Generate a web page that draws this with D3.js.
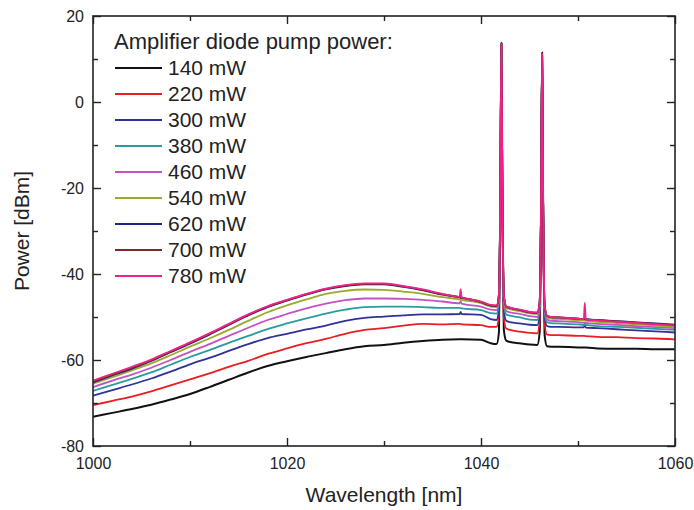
<!DOCTYPE html>
<html>
<head>
<meta charset="utf-8">
<script src="https://cdn.jsdelivr.net/npm/d3@7"></script>
<style>
  html, body { margin: 0; padding: 0; background: #fff; }
  svg { display: block; font-family: "Liberation Sans", Arial, sans-serif; }
</style>
</head>
<body>
<svg id="chart" width="694" height="510"></svg>
<script>
// ---------------- DATA ----------------
const wavelength = [1000,1002,1004,1006,1008,1010,1012,1014,1016,1018,1020,1022,1024,1026,1028,1030,1032,1034,1036,
  1037.8,1037.9,1038,1040,1041,1041.6,1041.85,1042,1042.1,1042.2,1042.35,1042.6,1043,1044,1045,1045.8,1046.05,1046.2,1046.3,1046.4,1046.55,1046.8,1047.2,1048,1050,1050.6,1050.7,1050.8,1052,1054,1056,1058,1060];

const p140 = [-73.2,-72.3,-71.4,-70.4,-69.2,-67.9,-66.3,-64.6,-62.9,-61.4,-60.3,-59.3,-58.4,-57.5,-56.8,-56.5,-56.0,-55.6,-55.3,
  -55.2,-55.2,-55.2,-55.3,-56.1,-56.3,-53.5,-20,13.8,-20,-52.8,-55.5,-55.8,-56.1,-56.4,-56.5,-53.5,-22,11.5,-22,-54,-56.8,-56.9,-56.9,-57.1,-57.1,-57.1,-57.1,-57.3,-57.4,-57.4,-57.5,-57.5];
const p220 = [-70.5,-69.5,-68.5,-67.3,-65.9,-64.5,-63.1,-61.6,-60.2,-58.6,-57.3,-56.1,-55.1,-53.9,-53.0,-52.6,-52.0,-51.6,-51.7,
  -51.6,-51.65,-51.7,-51.9,-52.3,-52.3,-49.5,-20,13.5,-20,-50,-52.7,-53.0,-53.4,-53.7,-53.8,-51,-22,11.2,-22,-51.4,-54.1,-54.2,-54.2,-54.4,-54.4,-54.4,-54.45,-54.6,-54.7,-54.9,-55.0,-55.2];
const p300 = [-68.3,-67.0,-65.7,-64.3,-62.7,-61.0,-59.5,-57.9,-56.3,-54.9,-53.9,-52.9,-52.0,-50.9,-50.2,-49.9,-49.6,-49.4,-49.4,
  -49.3,-48.8,-49.3,-49.5,-50.5,-50.7,-48,-20,13.5,-20,-48.3,-50.9,-51.2,-51.5,-51.8,-51.9,-49.3,-22,11.2,-22,-49.6,-52.1,-52.3,-52.3,-52.4,-52.4,-51.6,-52.45,-52.6,-52.85,-53.1,-53.35,-53.6];
const p380 = [-67.2,-65.8,-64.4,-62.9,-61.1,-59.3,-57.7,-56.0,-54.4,-52.8,-51.5,-50.3,-49.2,-48.3,-47.7,-47.6,-47.6,-47.7,-47.9,
  -47.9,-47.95,-48.0,-48.4,-49.1,-49.2,-46.6,-20,13.5,-20,-47,-49.4,-49.7,-50.1,-50.6,-50.7,-48,-22,11.2,-22,-48.5,-51.2,-51.4,-51.5,-51.7,-51.8,-51.8,-51.85,-52.1,-52.3,-52.5,-52.75,-53.0];
const p460 = [-66.3,-64.8,-63.4,-61.8,-60.0,-58.1,-56.3,-54.4,-52.5,-50.7,-49.3,-48.0,-46.9,-46.1,-45.7,-45.7,-45.8,-46.0,-46.4,
  -46.8,-46.3,-46.9,-47.6,-48.3,-48.4,-45.8,-20,13.5,-20,-46,-48.6,-48.9,-49.3,-49.8,-50.0,-47.3,-22,11.2,-22,-47.7,-50.6,-50.9,-50.95,-51.2,-51.3,-51.3,-51.35,-51.6,-51.85,-52.1,-52.35,-52.6];
const p540 = [-65.5,-64.0,-62.4,-60.8,-58.9,-56.9,-55.0,-53.0,-50.9,-48.9,-47.3,-45.9,-44.6,-43.9,-43.6,-43.7,-44.1,-44.6,-45.4,
  -45.9,-45.95,-46.0,-46.8,-47.6,-47.7,-45.1,-20,13.5,-20,-45.2,-47.9,-48.2,-48.65,-49.15,-49.35,-46.6,-22,11.2,-22,-47.4,-50.05,-50.35,-50.45,-50.7,-50.8,-50.8,-50.85,-51.1,-51.4,-51.7,-52.0,-52.3];
const p620 = [-65.2,-63.6,-62.0,-60.2,-58.2,-56.2,-54.1,-51.85,-49.65,-47.7,-46.2,-44.8,-43.6,-42.8,-42.4,-42.4,-43.0,-43.8,-44.8,
  -45.45,-45.5,-45.55,-46.55,-47.35,-47.45,-44.8,-20,13.5,-20,-44.9,-47.6,-47.9,-48.4,-48.9,-49.05,-46.4,-22,11.2,-22,-47.1,-49.75,-50.0,-50.1,-50.4,-50.45,-50.45,-50.5,-50.7,-50.95,-51.25,-51.5,-51.8];
const p700 = [-65.0,-63.4,-61.8,-60.1,-58.05,-56.05,-53.95,-51.7,-49.5,-47.6,-46.1,-44.7,-43.5,-42.7,-42.3,-42.3,-42.9,-43.7,-44.7,
  -45.4,-45.45,-45.5,-46.5,-47.3,-47.4,-44.7,-20,13.5,-20,-44.85,-47.55,-47.85,-48.35,-48.85,-49.0,-46.35,-22,11.2,-22,-47.05,-49.7,-50.0,-50.1,-50.4,-50.5,-50.5,-50.55,-50.75,-51.0,-51.3,-51.6,-51.9];
const p780 = [-64.8,-63.2,-61.6,-59.9,-57.9,-55.9,-53.8,-51.6,-49.4,-47.5,-46.0,-44.6,-43.4,-42.6,-42.2,-42.2,-42.8,-43.6,-44.6,
  -45.3,-43.6,-45.4,-46.4,-47.2,-47.3,-44.6,-20,13.5,-20,-44.8,-47.5,-47.8,-48.3,-48.8,-48.95,-46.3,-22,11.2,-22,-47,-49.7,-50.0,-50.1,-50.4,-50.5,-46.7,-50.55,-50.8,-51.1,-51.4,-51.7,-52.0];

const seriesLabels = ["140 mW","220 mW","300 mW","380 mW","460 mW","540 mW","620 mW","700 mW","780 mW"];
const seriesValues = [p140,p220,p300,p380,p460,p540,p620,p700,p780];
const seriesColors = ["#111111","#ec1c24","#2e3399","#2a9c9e","#c452c4","#9aaa2a","#1f2580","#7a2a2a","#ee2288"];
const legendTitle = "Amplifier diode pump power:";
const xTicks = [1000,1020,1040,1060];
const xMinorTicks = [1010,1030,1050];
const yTicks = [-80,-60,-40,-20,0,20];
const yMinorTicks = [-70,-50,-30,-10,10];
const xLabel = "Wavelength [nm]";
const yLabel = "Power [dBm]";

// ---------------- CHART ----------------
const svg = d3.select("#chart");
const L = 93, R = 675, T = 16, B = 446;
const x = d3.scaleLinear().domain([1000,1060]).range([L,R]);
const y = d3.scaleLinear().domain([-80,20]).range([B,T]);
const textColor = "#222";
const fmt = d => String(d);

svg.append("defs").append("clipPath").attr("id","clip")
  .append("rect").attr("x",L).attr("y",T).attr("width",R-L).attr("height",B-T);

// lines
const line = d3.line().x(d => x(d[0])).y(d => y(d[1])).curve(d3.curveMonotoneX);
const gLines = svg.append("g").attr("clip-path","url(#clip)");
seriesValues.forEach((vals,i) => {
  const pts = wavelength.map((w,j) => [w, vals[j]]);
  gLines.append("path").datum(pts)
    .attr("d", line)
    .attr("fill","none")
    .attr("stroke", seriesColors[i])
    .attr("stroke-width", i === 0 ? 2.0 : 1.8)
    .attr("stroke-linejoin","round");
});

// axes (ticks inward, on all four sides)
function styleAxis(g) {
  g.select(".domain").remove();
  g.selectAll(".tick line").attr("stroke","#222").attr("stroke-width",1.4);
  g.selectAll(".tick text").attr("fill",textColor).style("font-size","16px")
    .style("font-family","'Liberation Sans', Arial, sans-serif");
}
svg.append("g").attr("transform",`translate(0,${B})`)
  .call(d3.axisBottom(x).tickValues(xTicks).tickSize(-8).tickPadding(12).tickFormat(fmt))
  .call(styleAxis);
svg.append("g").attr("transform",`translate(0,${B})`)
  .call(d3.axisBottom(x).tickValues(xMinorTicks).tickSize(-5).tickFormat(""))
  .call(styleAxis);
svg.append("g").attr("transform",`translate(0,${T})`)
  .call(d3.axisTop(x).tickValues(xTicks).tickSize(-8).tickFormat(""))
  .call(styleAxis);
svg.append("g").attr("transform",`translate(0,${T})`)
  .call(d3.axisTop(x).tickValues(xMinorTicks).tickSize(-5).tickFormat(""))
  .call(styleAxis);
svg.append("g").attr("transform",`translate(${L},0)`)
  .call(d3.axisLeft(y).tickValues(yTicks).tickSize(-8).tickPadding(9).tickFormat(fmt))
  .call(styleAxis);
svg.append("g").attr("transform",`translate(${L},0)`)
  .call(d3.axisLeft(y).tickValues(yMinorTicks).tickSize(-5).tickFormat(""))
  .call(styleAxis);
svg.append("g").attr("transform",`translate(${R},0)`)
  .call(d3.axisRight(y).tickValues(yTicks).tickSize(-8).tickFormat(""))
  .call(styleAxis);
svg.append("g").attr("transform",`translate(${R},0)`)
  .call(d3.axisRight(y).tickValues(yMinorTicks).tickSize(-5).tickFormat(""))
  .call(styleAxis);

// frame
svg.append("rect").attr("x",L).attr("y",T).attr("width",R-L).attr("height",B-T)
  .attr("fill","none").attr("stroke","#222").attr("stroke-width",1.6);

// axis titles
svg.append("text").attr("x",(L+R)/2).attr("y",502).attr("text-anchor","middle")
  .attr("fill",textColor).style("font-size","21px").text(xLabel);
svg.append("text").attr("transform",`translate(29,${(T+B)/2}) rotate(-90)`).attr("text-anchor","middle")
  .attr("fill",textColor).style("font-size","21px").text(yLabel);

// legend
const lg = svg.append("g");
lg.append("text").attr("x",114).attr("y",41).attr("dy","0.35em")
  .attr("fill",textColor).style("font-size","22px").text(legendTitle);
seriesLabels.forEach((lab,i) => {
  const yy = 68 + i*26;
  lg.append("line").attr("x1",115).attr("x2",162).attr("y1",yy).attr("y2",yy)
    .attr("stroke",seriesColors[i]).attr("stroke-width",1.8);
  lg.append("text").attr("x",168).attr("y",yy).attr("dy","0.35em")
    .attr("fill",textColor).style("font-size","21px").text(lab);
});
</script>
</body>
</html>
